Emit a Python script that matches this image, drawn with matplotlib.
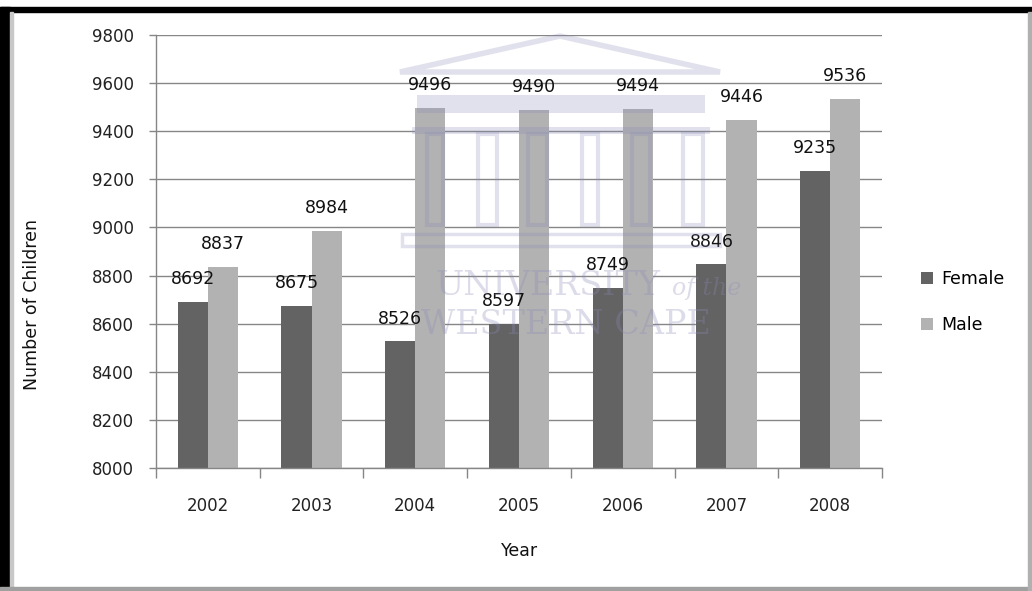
import matplotlib
matplotlib.use("Agg")
import matplotlib.pyplot as plt
import numpy as np
from matplotlib.patches import Rectangle, Polygon

years = ["2002", "2003", "2004", "2005", "2006", "2007", "2008"]
female = [8692, 8675, 8526, 8597, 8749, 8846, 9235]
male = [8837, 8984, 9496, 9490, 9494, 9446, 9536]
yticks = [8000, 8200, 8400, 8600, 8800, 9000, 9200, 9400, 9600, 9800]

plt.rcParams['font.family'] = ['DejaVu Sans']

W, H = 1032, 591
fig = plt.figure(figsize=(W/100, H/100), dpi=100)
ax = fig.add_axes([156/W, 1-468/H, (882-156)/W, (468-35)/H])

x = np.arange(len(years))
bw = 0.29
fc = '#636363'
mc = '#b2b2b2'
ax.bar(x - bw/2, [f - 8000 for f in female], bw, bottom=8000, color=fc, label='Female', zorder=2)
ax.bar(x + bw/2, [m - 8000 for m in male], bw, bottom=8000, color=mc, label='Male', zorder=2)

for xi, f, m in zip(x, female, male):
    ax.annotate(str(f), (xi - bw/2, f), xytext=(0, 10), textcoords='offset points',
                ha='center', va='bottom', fontsize=12.5, color='#111111', zorder=5)
    ax.annotate(str(m), (xi + bw/2, m), xytext=(0, 10), textcoords='offset points',
                ha='center', va='bottom', fontsize=12.5, color='#111111', zorder=5)

ax.set_xlim(-0.5, len(years) - 0.5)
ax.set_ylim(8000, 9800)
ax.set_yticks(yticks)
ax.set_yticklabels([str(t) for t in yticks], fontsize=12, color='#222222')
ax.set_xticks(x)
ax.set_xticklabels(years, fontsize=12, color='#222222')
ax.tick_params(axis='x', length=0, pad=21)
ax.set_xticks(np.arange(-0.5, len(years)), minor=True)
ax.tick_params(axis='x', which='minor', length=7, color='#868686', width=1)
ax.tick_params(axis='y', length=5, color='#868686', width=1, pad=11)
ax.grid(axis='y', color='#868686', linewidth=1, zorder=0)
ax.set_axisbelow(True)
for s in ['top', 'right']:
    ax.spines[s].set_visible(False)
for s in ['left', 'bottom']:
    ax.spines[s].set_color('#868686')
    ax.spines[s].set_linewidth(1)

fig.text(32/W, 1-305/H, 'Number of Children', rotation=90, ha='center', va='center', fontsize=12.5, color='#111111')
fig.text(520/W, 1-551/H, 'Year', ha='center', va='center', fontsize=12.5, color='#111111')

leg = ax.legend(loc='center left', bbox_to_anchor=(905/W, 1-302/H), bbox_transform=fig.transFigure,
                frameon=False, fontsize=12.5, handlelength=0.7, handleheight=0.7,
                labelspacing=1.6, handletextpad=0.5)

# watermark building (faint)
wm = '#8a8ab8'
def fx(px):
    return px / W
def fy(py):
    return 1 - py / H
tf = fig.transFigure
fig.patches.append(Polygon([(fx(400), fy(72)), (fx(560), fy(36)), (fx(720), fy(72))], closed=True,
                           fill=False, edgecolor=wm, linewidth=4, alpha=0.25, transform=tf, zorder=9))
fig.patches.append(Rectangle((fx(417), fy(113)), fx(705)-fx(417), 18/H, transform=tf,
                             color=wm, alpha=0.25, zorder=9, linewidth=0))
fig.patches.append(Rectangle((fx(412), fy(134)), fx(710)-fx(412), 7/H, transform=tf,
                             color=wm, alpha=0.25, zorder=9, linewidth=0))
for c0, c1 in [(427, 443), (478, 497), (528, 547), (582, 598), (632, 650), (683, 703)]:
    fig.patches.append(Rectangle((fx(c0), fy(225)), fx(c1)-fx(c0), 91/H, transform=tf,
                                 facecolor='none', edgecolor=wm, linewidth=3, alpha=0.25, zorder=9))
fig.patches.append(Rectangle((fx(402), fy(246)), fx(720)-fx(402), 12/H, transform=tf,
                             facecolor='none', edgecolor=wm, linewidth=2.5, alpha=0.25, zorder=9))

fig.text(fx(548), fy(286), 'UNIVERSITY', ha='center', va='center', fontsize=24,
         family='DejaVu Serif', color=wm, alpha=0.3, zorder=10)
fig.text(fx(707), fy(288), 'of the', ha='center', va='center', fontsize=17, style='italic',
         family='DejaVu Serif', color=wm, alpha=0.3, zorder=10)
fig.text(fx(566), fy(325), 'WESTERN CAPE', ha='center', va='center', fontsize=24,
         family='DejaVu Serif', color=wm, alpha=0.3, zorder=10)

# frame
fig.patches.append(Rectangle((0, 1-12/H), 1, 5/H, transform=tf, color='black', zorder=20))
fig.patches.append(Rectangle((0, 0), 10/W, 1-7/H, transform=tf, color='black', zorder=20))
fig.patches.append(Rectangle((10/W, 0), 3/W, 1-12/H, transform=tf, color='#c8c8c8', zorder=20))
fig.patches.append(Rectangle((0, 0), 1, 4/H, transform=tf, color='#a0a0a0', zorder=20))
fig.patches.append(Rectangle((1-4/W, 0), 4/W, 1-12/H, transform=tf, color='#b0b0b0', zorder=20))

fig.savefig('out.png', dpi=100)
